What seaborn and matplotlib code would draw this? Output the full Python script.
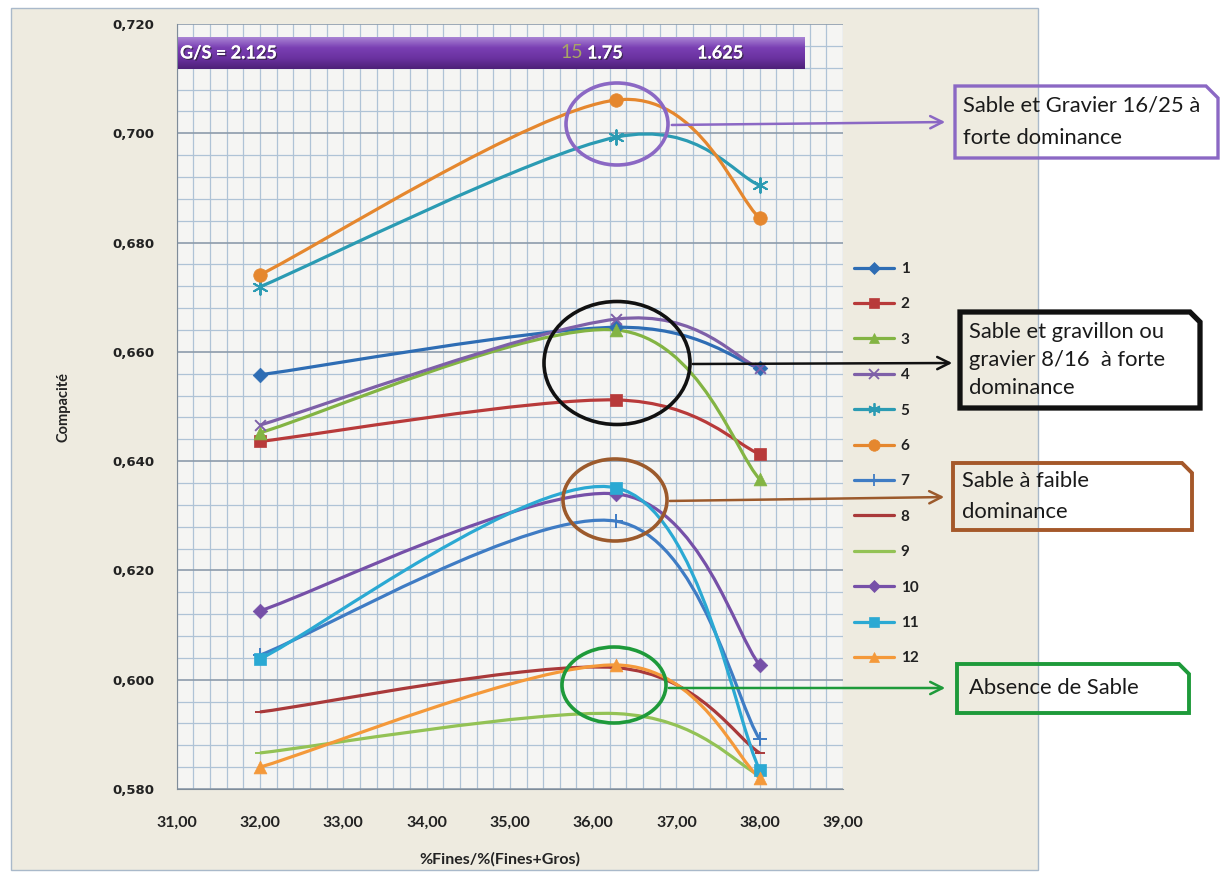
import numpy as np
import pandas as pd
import matplotlib
matplotlib.use("Agg")
import matplotlib.pyplot as plt
import matplotlib.patheffects as pe
import seaborn as sns
from matplotlib.path import Path
from matplotlib.patches import PathPatch, Ellipse, Polygon, Rectangle, FancyArrowPatch
from matplotlib.lines import Line2D
from matplotlib.colors import LinearSegmentedColormap

# --- data ---
x_fines = [32.0, 36.28, 38.0]
serie_1 = [0.6558, 0.6645, 0.6570]
serie_2 = [0.6436, 0.6512, 0.6413]
serie_3 = [0.6452, 0.6640, 0.6367]
serie_4 = [0.6466, 0.6660, 0.6570]
serie_5 = [0.6719, 0.6993, 0.6905]
serie_6 = [0.6741, 0.7061, 0.6845]
serie_7 = [0.6045, 0.6290, 0.5891]
serie_8 = [0.5941, 0.6022, 0.5866]
serie_9 = [0.5866, 0.5938, 0.5825]
serie_10 = [0.6126, 0.6340, 0.6027]
serie_11 = [0.6038, 0.6351, 0.5835]
serie_12 = [0.5840, 0.6027, 0.5820]
series = [serie_1, serie_2, serie_3, serie_4, serie_5, serie_6,
          serie_7, serie_8, serie_9, serie_10, serie_11, serie_12]
names = [str(i) for i in range(1, 13)]

x_ticks = [31, 32, 33, 34, 35, 36, 37, 38, 39]
y_ticks = [0.58, 0.60, 0.62, 0.64, 0.66, 0.68, 0.70, 0.72]

gs_labels = ["G/S = 2.125", "15", "1.75", "1.625"]
notes = ["Sable et Gravier 16/25 à\nforte dominance",
         "Sable et gravillon ou\ngravier 8/16  à forte\ndominance",
         "Sable à faible\ndominance",
         "Absence de Sable"]

# --- styles ---
colors = ["#2E6DB4", "#B83A3A", "#83B443", "#7E60A8", "#2B9BB3", "#E5872E",
          "#3F7CC4", "#A9393A", "#93C255", "#7650A8", "#2BA9D3", "#F4993A"]
markers = ["D", "s", "^", "x", (6, 2, 0), "o", "+", "_", "_", "D", "s", "^"]
msizes = [55, 80, 85, 60, 110, 95, 110, 45, 45, 55, 80, 85]

W, H = 1221, 876


def fx(px):
    return px / W


def fy(py):
    return 1 - py / H


def smooth_path(xs, ys):
    # Excel-like smoothed line (Catmull-Rom -> cubic Bezier)
    pts = np.column_stack([xs, ys])
    n = len(pts)
    verts, codes = [pts[0]], [Path.MOVETO]
    for i in range(n - 1):
        p0, p1 = pts[max(i - 1, 0)], pts[i]
        p2, p3 = pts[i + 1], pts[min(i + 2, n - 1)]
        verts += [p1 + (p2 - p0) / 6, p2 - (p3 - p1) / 6, p2]
        codes += [Path.CURVE4] * 3
    return Path(verts, codes)


sns.set_style("white")
plt.rcParams["font.family"] = ["Lato", "DejaVu Sans"]

fig = plt.figure(figsize=(W / 100, H / 100), dpi=100)
fig.patch.set_facecolor("white")
fig.add_artist(Rectangle((fx(11), fy(870)), fx(1038) - fx(11), fy(8) - fy(870),
                         transform=fig.transFigure, facecolor="#EEEBE0",
                         edgecolor="#A9B9CA", lw=1, zorder=0))

ax = fig.add_axes([fx(176.7), fy(789), fx(843) - fx(176.7), fy(24) - fy(789)])
ax.set_facecolor("#F5F5F3")
ax.set_xlim(31, 39)
ax.set_ylim(0.58, 0.72)
ax.set_xticks(x_ticks, labels=[f"{v:.2f}".replace(".", ",") for v in x_ticks],
              fontfamily="Lato", fontweight="bold", fontsize=11.5)
ax.set_yticks(y_ticks, labels=[f"{v:.3f}".replace(".", ",") for v in y_ticks],
              fontfamily="DejaVu Sans", fontweight="bold", fontsize=9.5)
ax.set_xticks(np.arange(31, 39.01, 0.2), minor=True)
ax.set_yticks(np.arange(0.58, 0.7201, 0.004), minor=True)
ax.grid(which="minor", color="#AFC3D6", lw=0.9)
ax.grid(which="major", axis="x", color="#AFC3D6", lw=0.9)
ax.grid(which="major", axis="y", color="#8D9CAB", lw=1.2)
ax.set_axisbelow(True)
ax.tick_params(which="minor", length=0)
ax.tick_params(axis="y", which="major", length=7, color="#7F8C99", pad=9, labelcolor="#222222")
ax.tick_params(axis="x", which="major", length=5, color="#7F8C99", pad=14, labelcolor="#222222")
for s in ["top", "right"]:
    ax.spines[s].set_visible(False)
for s in ["left", "bottom"]:
    ax.spines[s].set_color("#7F8C99")

# curves + markers
df = pd.DataFrame({"serie": np.repeat(names, len(x_fines)),
                   "x": np.tile(x_fines, len(series)),
                   "y": np.concatenate(series)})
handles = []
for name, c, m, s in zip(names, colors, markers, msizes):
    sub = df[df["serie"] == name]
    ax.add_patch(PathPatch(smooth_path(sub["x"].values, sub["y"].values),
                           facecolor="none", edgecolor=c, lw=2.3, zorder=3))
    filled = m in ["D", "s", "^", "o"]
    if filled:
        sns.scatterplot(data=sub, x="x", y="y", marker=m, s=s, color=c,
                        edgecolor=c, linewidth=0.5, ax=ax, zorder=4, legend=False)
    else:
        sns.scatterplot(data=sub, x="x", y="y", marker=m, s=s, color=c,
                        linewidth=1.4, ax=ax, zorder=4, legend=False)
    handles.append(Line2D([], [], color=c, lw=2.3, marker=m,
                          markersize=np.sqrt(s) * 0.85,
                          markeredgewidth=1.3 if not filled else 0.5))

ax.set_xlabel("%Fines/%(Fines+Gros)", fontweight="bold", fontsize=11.5, color="#222222")
ax.xaxis.set_label_coords(0.485, -0.083)
ax.set_ylabel("Compacité", fontweight="bold", fontsize=10.5, color="#222222")
ax.yaxis.set_label_coords(-0.16, 0.5)

leg = ax.legend(handles, names, loc="upper left", bbox_to_anchor=(fx(854), fy(262)),
                bbox_transform=fig.transFigure, frameon=False, handlelength=2.6,
                handletextpad=0.45, labelspacing=1.4, borderpad=0, borderaxespad=0,
                prop={"family": "Lato", "weight": "bold", "size": 11})
for t in leg.get_texts():
    t.set_color("#222222")

# G/S banner
bax = fig.add_axes([fx(178), fy(69), fx(805) - fx(178), fy(37) - fy(69)])
grad = np.linspace(0, 1, 64)[:, None]
cmap = LinearSegmentedColormap.from_list("band", ["#A984D4", "#7A3FB3", "#6A32A0", "#4E2178"])
bax.imshow(grad, aspect="auto", cmap=cmap, extent=(0, 1, 0, 1))
bax.set_axis_off()
shadow = [pe.withSimplePatchShadow(offset=(1, -1), shadow_rgbFace="#222222", alpha=0.6), pe.Normal()]
for lbl, px, col, fw, fs in zip(gs_labels, [180, 560, 587, 697],
                                ["white", "#A8A565", "white", "white"],
                                ["bold", "normal", "bold", "bold"], [13, 14, 13, 13]):
    fig.text(fx(px), fy(53), lbl, color=col, fontweight=fw, fontsize=fs, va="center",
             ha="left", path_effects=shadow if col == "white" else None)

# ellipses, arrows and boxes
ell = [((617, 124), 102, 82, "#8B68C4"),
       ((617, 363), 146, 123, "#111111"),
       ((615, 500), 104, 82, "#9C5A2C"),
       ((614, 685), 104, 76, "#1E9A3A")]
for (cx, cy), w, h, c in ell:
    fig.add_artist(Ellipse((fx(cx), fy(cy)), w / W, h / H, transform=fig.transFigure,
                           fill=False, edgecolor=c, lw=2.6, zorder=5))

arrows = [((669, 125), (948, 122), "#8B68C4"),
          ((690, 364), (955, 363), "#111111"),
          ((667, 501), (947, 497), "#9C5A2C"),
          ((666, 688), (948, 688), "#1E9A3A")]
for (x0, y0), (x1, y1), c in arrows:
    fig.add_artist(FancyArrowPatch((fx(x0), fy(y0)), (fx(x1), fy(y1)),
                                   transform=fig.transFigure, arrowstyle="->",
                                   mutation_scale=22, color=c, lw=1.8, zorder=5))

boxes = [(955, 86, 1218, 158, 12, "#8B68C4", 2.4, 963, 1.78),
         (960, 312, 1200, 408, 10, "#111111", 3.8, 969, 1.47),
         (953, 463, 1192, 530, 10, "#A5582A", 2.8, 962, 1.72),
         (957, 664, 1189, 713, 10, "#1E9A3A", 2.8, 969, 1.2)]
for (x0, y0, x1, y1, cut, c, lw, tx, ls), note in zip(boxes, notes):
    poly = [(fx(x0), fy(y0)), (fx(x1 - cut), fy(y0)), (fx(x1), fy(y0 + cut)),
            (fx(x1), fy(y1)), (fx(x0), fy(y1))]
    fig.add_artist(Polygon(poly, closed=True, fill=False, edgecolor=c, lw=lw,
                           transform=fig.transFigure, zorder=5))
    fig.text(fx(tx), fy((y0 + y1) / 2), note, ha="left", va="center", fontsize=15.8,
             color="#1A1A1A", linespacing=ls, zorder=6)

fig.savefig("out.png", dpi=100)
